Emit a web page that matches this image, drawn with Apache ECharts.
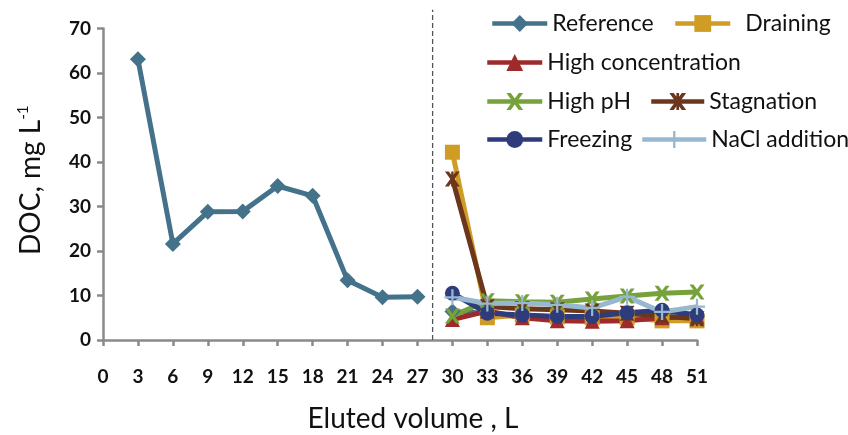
<!DOCTYPE html>
<html>
<head>
<meta charset="utf-8">
<script src="https://cdn.jsdelivr.net/npm/echarts@6/dist/echarts.min.js"></script>
<style>
  html, body { margin: 0; padding: 0; background: #fff; }
  #chart { width: 848px; height: 435px; }
</style>
</head>
<body>
<div id="chart"></div>
<script>
// first phase (reference column only)
const earlyVol = [3, 6, 9, 12, 15, 18, 21, 24, 27];
const earlyRef = [63.1, 21.6, 28.8, 28.9, 34.6, 32.4, 13.4, 9.6, 9.7];

// second phase, treatments
const lateVol = [30, 33, 36, 39, 42, 45, 48, 51];
const reference = [6.4, 6.0, 5.2, 5.0, 5.0, 4.6, 5.0, 5.2];
const draining = [42.2, 5.0, 5.6, 5.2, 5.0, 5.0, 4.3, 4.3];
const highConc = [4.6, 6.5, 5.0, 4.3, 4.2, 4.3, 5.0, 5.2];
const highPH = [5.4, 8.8, 8.6, 8.5, 9.2, 9.9, 10.5, 10.8];
const stagnation = [36.2, 7.5, 7.0, 6.8, 6.5, 6.0, 5.4, 4.8];
const freezing = [10.5, 6.0, 5.6, 5.3, 5.3, 6.1, 6.7, 5.6];
const nacl = [9.6, 8.2, 8.3, 7.9, 7.2, 9.7, 6.3, 7.5];

// dashed separator between the two phases
const dividerX = 28.3;
const dividerY = [0, 74.2];

const xTicksMin = 0, xTicksMax = 51, xStep = 3;
const yTicksMin = 0, yTicksMax = 70, yStep = 10;

const pathX = 'path://M0,0 L2.6,0 L5,3.2 L7.4,0 L10,0 L6.4,5 L10,10 L7.4,10 L5,6.8 L2.6,10 L0,10 L3.6,5 Z';
const pathStar = 'path://M0,0 L2.6,0 L5,3.2 L7.4,0 L10,0 L6.4,5 L10,10 L7.4,10 L5,6.8 L2.6,10 L0,10 L3.6,5 Z M4.2,0 L5.8,0 L5.8,10 L4.2,10 Z';
const pathPlus = 'path://M4.3,0 L5.7,0 L5.7,4.3 L10,4.3 L10,5.7 L5.7,5.7 L5.7,10 L4.3,10 L4.3,5.7 L0,5.7 L0,4.3 L4.3,4.3 Z';

const zip = (xs, ys) => xs.map((x, i) => [x, ys[i]]);

const txt = 'Lato, "Open Sans", sans-serif';

function lineSeries(name, data, color, symbol, size) {
  return {
    name,
    type: 'line',
    data,
    symbol,
    symbolSize: size,
    showAllSymbol: true,
    lineStyle: { color, width: 5 },
    itemStyle: { color },
    emphasis: { disabled: true },
    animation: false,
  };
}

function legendAt(name, left, top, extra) {
  return Object.assign({
    data: [name],
    left,
    top,
    padding: 0,
    itemWidth: 55,
    itemHeight: 21,
    selectedMode: false,
    lineStyle: { width: 4.5 },
    textStyle: { fontFamily: txt, fontSize: 23, color: '#111' },
  }, extra || {});
}

const chart = echarts.init(document.getElementById('chart'));

const refData = zip(earlyVol, earlyRef).concat([[dividerX, '-']], zip(lateVol, reference));

chart.setOption({
  animation: false,
  grid: { left: 103, right: 151, top: 28.5, bottom: 95, outerBoundsMode: 'none' },
  legend: [
    legendAt('Reference', 490, 12),
    legendAt('Draining', 673, 12, { textStyle: { fontFamily: txt, fontSize: 23, color: '#111', padding: [0, 0, 0, 10] } }),
    legendAt('High concentration', 485, 51),
    legendAt('High pH', 485, 90),
    legendAt('Stagnation', 649, 90, { textStyle: { fontFamily: txt, fontSize: 23, color: '#111', padding: [0, 0, 0, 0] }, itemWidth: 53 }),
    legendAt('Freezing', 485, 128),
    legendAt('NaCl addition', 640, 128, { itemWidth: 64 }),
  ],
  xAxis: {
    type: 'value',
    min: xTicksMin,
    max: xTicksMax,
    interval: xStep,
    name: 'Eluted volume , L',
    nameLocation: 'middle',
    nameGap: 65,
    nameTextStyle: { fontFamily: txt, fontSize: 28, color: '#111', padding: [0, 0, 0, 26] },
    axisLine: { lineStyle: { color: '#8a8a8a', width: 2.5 } },
    axisTick: { length: 6, lineStyle: { color: '#8a8a8a', width: 2.5 } },
    axisLabel: { fontFamily: txt, fontWeight: 'bold', fontSize: 19, color: '#111', margin: 27 },
    splitLine: { show: false },
  },
  yAxis: {
    type: 'value',
    min: yTicksMin,
    max: yTicksMax,
    interval: yStep,
    name: 'DOC, mg L{sup|-1}',
    nameLocation: 'middle',
    nameRotate: 90,
    nameGap: 58,
    nameTextStyle: {
      fontFamily: txt, fontSize: 28, color: '#111', padding: [0, 0, 0, 8],
      rich: { sup: { fontFamily: txt, fontSize: 15, color: '#111', verticalAlign: 'top', padding: [0, 0, 14, 0] } },
    },
    axisLine: { show: true, lineStyle: { color: '#8a8a8a', width: 2.5 } },
    axisTick: { show: true, length: 6, lineStyle: { color: '#8a8a8a', width: 2.5 } },
    axisLabel: { fontFamily: txt, fontWeight: 'bold', fontSize: 19, color: '#111', margin: 12 },
    splitLine: { show: false },
  },
  series: [
    {
      name: 'divider',
      type: 'line',
      data: zip([dividerX, dividerX], dividerY),
      symbol: 'none',
      clip: false,
      silent: true,
      lineStyle: { color: '#555', type: [5, 3], width: 1.3 },
      animation: false,
    },
    lineSeries('Reference', refData, '#44728a', 'diamond', 16),
    lineSeries('Draining', zip(lateVol, draining), '#cf9c25', 'rect', 15),
    lineSeries('High concentration', zip(lateVol, highConc), '#9e2a2b', 'triangle', 15),
    lineSeries('High pH', zip(lateVol, highPH), '#76a23b', pathX, 15),
    lineSeries('Stagnation', zip(lateVol, stagnation), '#6c361c', pathStar, 15),
    lineSeries('Freezing', zip(lateVol, freezing), '#2f3c7c', 'circle', 15),
    lineSeries('NaCl addition', zip(lateVol, nacl), '#97b8ce', pathPlus, 16),
  ],
});
</script>
</body>
</html>
